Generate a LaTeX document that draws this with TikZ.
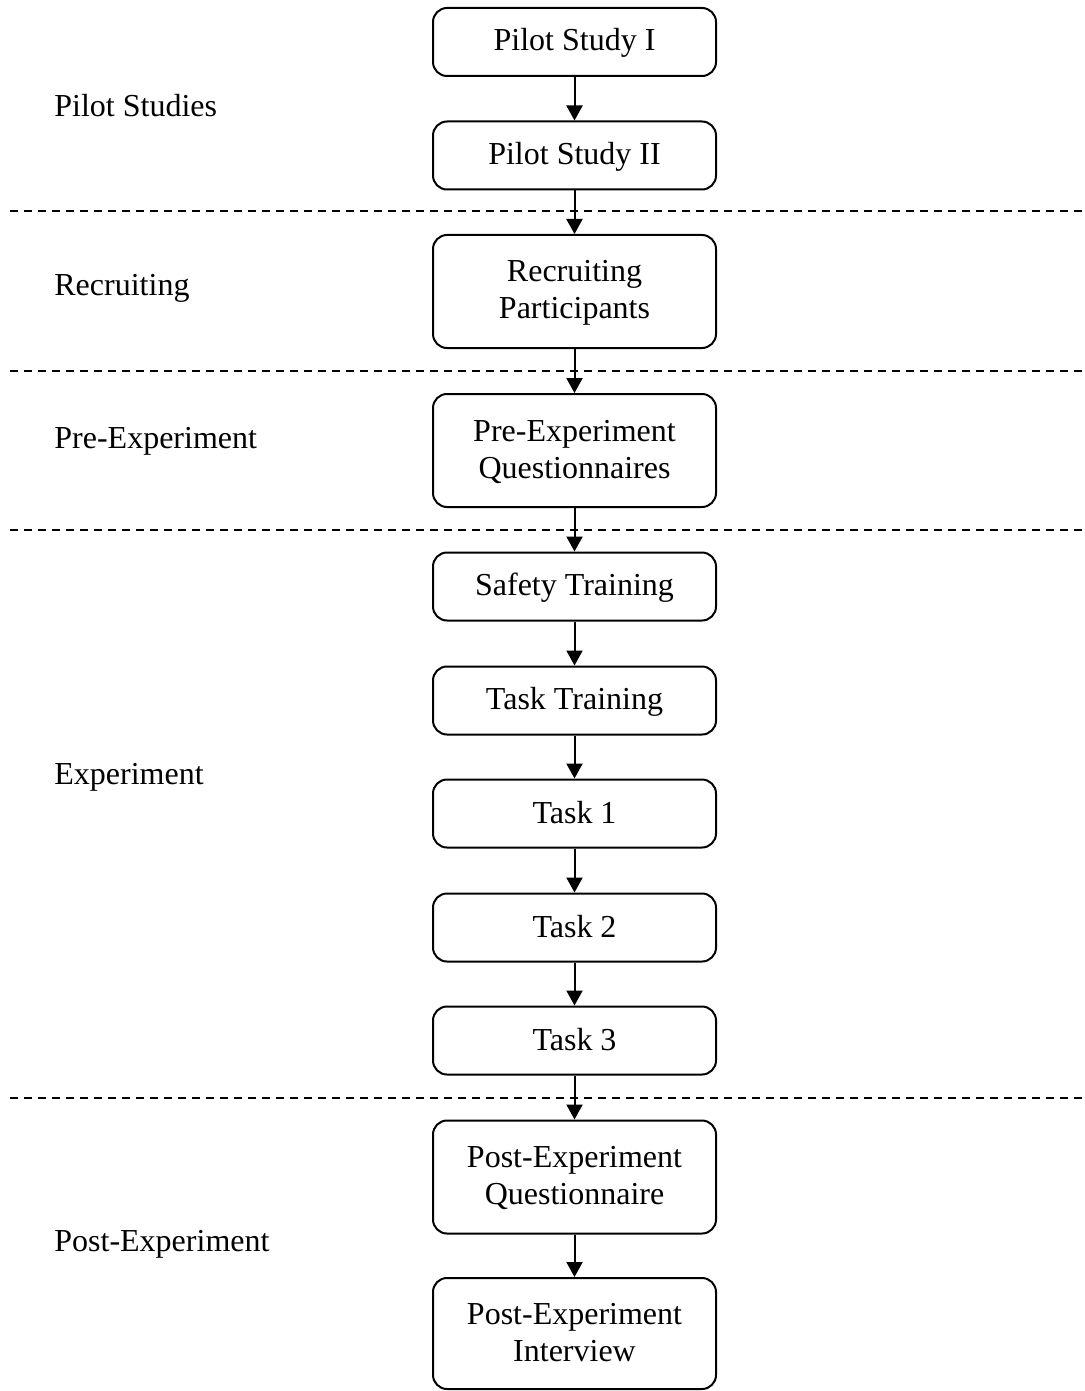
\documentclass[tikz,border=0pt]{standalone}
\usepackage{fontspec}
\setmainfont{Liberation Serif}
\usetikzlibrary{arrows.meta}
% uniform line box so every step label sits at the same height
\newcommand\linebox{\rule[-2.5pt]{0pt}{14.5pt}}
\begin{document}
\begin{tikzpicture}[x=0.5pt,y=-0.5pt,
  font=\fontsize{16}{18.5}\selectfont,
  stage/.style={draw, line width=1pt, rounded corners=7pt, minimum width=141.5pt,
    minimum height=34pt, inner sep=0pt, align=center},
  tall/.style={stage, minimum height=56.5pt},
  flow/.style={line width=1pt, -{Triangle[length=7.5pt,width=8pt]}},
  divider/.style={line width=0.9pt, dash pattern=on 4pt off 3pt},
  phase/.style={anchor=base west, inner sep=0pt}]
\useasboundingbox (0,0) rectangle (1084,1391);

% process steps
\node[stage] (p1) at (574.5,42)    {\linebox Pilot Study I};
\node[stage] (p2) at (574.5,155.5) {\linebox Pilot Study II};
\node[tall]  (rc) at (574.5,291.5) {\linebox Recruiting\\\linebox Participants};
\node[tall]  (pq) at (574.5,450.5) {\linebox Pre-Experiment\\\linebox Questionnaires};
\node[stage] (st) at (574.5,586.5) {\linebox Safety Training};
\node[stage] (tt) at (574.5,700.5) {\linebox Task Training};
\node[stage] (t1) at (574.5,813.5) {\linebox Task 1};
\node[stage] (t2) at (574.5,927.5) {\linebox Task 2};
\node[stage] (t3) at (574.5,1040.5) {\linebox Task 3};
\node[tall]  (oq) at (574.5,1177)  {\linebox Post-Experiment\\\linebox Questionnaire};
\node[stage, minimum height=55.5pt] (oi) at (574.5,1333.5) {\linebox Post-Experiment\\\linebox Interview};

% connectors
\foreach \a/\b in {p1/p2,p2/rc,rc/pq,pq/st,st/tt,tt/t1,t1/t2,t2/t3,t3/oq,oq/oi}
  \draw[flow] (\a.south) -- (\b.north);

% phase separators
\foreach \y/\n in {211/d1,371/d2,530/d3,1098/d4}{
  \coordinate (\n l) at (10,\y);
  \coordinate (\n r) at (1084,\y);
  \draw[divider] (\n l) -- (\n r);
}

% phase labels
\node[phase] (lp) at (54,116.7)  {Pilot Studies};
\node[phase] (lr) at (54,295)    {Recruiting};
\node[phase] (le) at (54,448.3)  {Pre-Experiment};
\node[phase] (lx) at (54,784.3)  {Experiment};
\node[phase] (lo) at (54,1251.3) {Post-Experiment};
\end{tikzpicture}
\end{document}
